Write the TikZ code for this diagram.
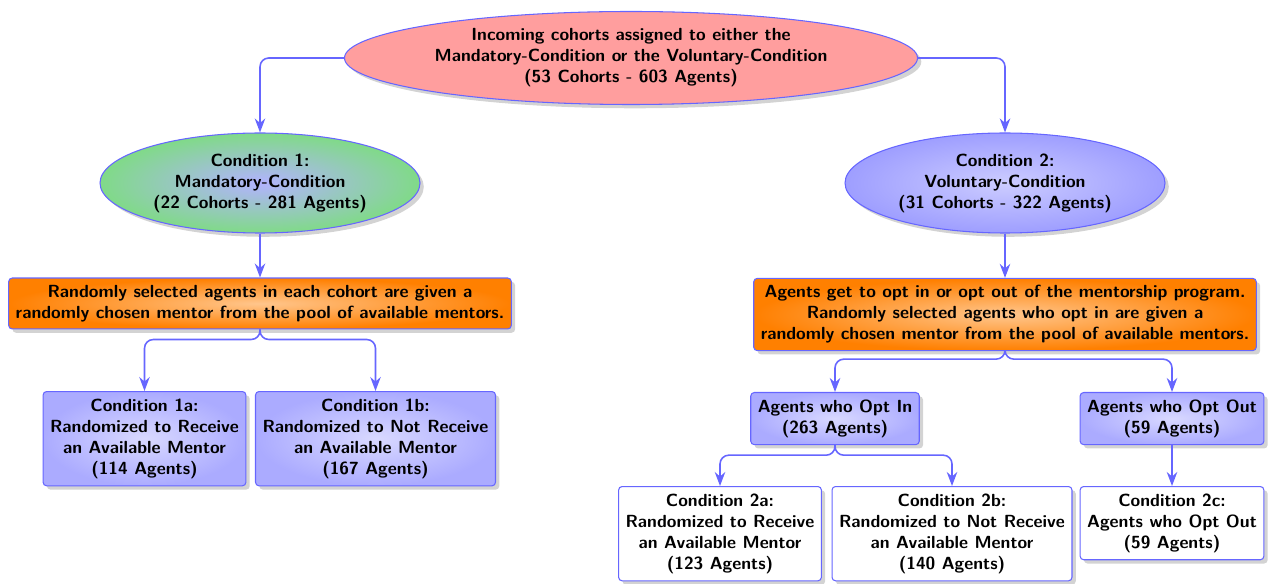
\documentclass[tikz,border=0pt]{standalone}
\usepackage{tikz}
\usepackage{xcolor}
\usetikzlibrary{shapes}
\usetikzlibrary{shadows}
\usetikzlibrary{arrows.meta}
\definecolor{condgreen}{RGB}{128,218,136}
\tikzset{base/.style={font=\sffamily\bfseries, align=center, draw=blue!60, semithick, drop shadow={opacity=0.35}},
 ellnode/.style={base, ellipse, inner sep=0pt},
 orangebox/.style={base, rectangle, rounded corners=2pt, inner sep=4pt, shade, inner color=orange!45, outer color=orange},
 bluebox/.style={base, rectangle, rounded corners=2pt, inner sep=4pt, shade, inner color=blue!15, outer color=blue!33},
 whitebox/.style={base, rectangle, rounded corners=2pt, inner sep=4pt, fill=white},
 conn/.style={draw=blue!60, line width=0.9pt, -{Stealth[length=2.8mm, width=2.1mm]}, rounded corners=5pt},
 }

\begin{document}
\begin{tikzpicture}
        \useasboundingbox (0,0) rectangle (25.44,11.66);
        \node[ellnode, fill=red!38, minimum width=11.46cm, minimum height=1.86cm] (top) at (12.62,10.50) {Incoming cohorts assigned to either the\\Mandatory-Condition or the Voluntary-Condition\\(53 Cohorts - 603 Agents)};
        \node[ellnode, shade, inner color=blue!30, outer color=condgreen, minimum width=6.4cm, minimum height=2.0cm] (cond1) at (5.20,8.00) {Condition 1:\\Mandatory-Condition\\(22 Cohorts - 281 Agents)};
        \node[ellnode, shade, inner color=blue!20, outer color=blue!38, minimum width=6.4cm, minimum height=2.0cm] (cond2) at (20.10,8.00) {Condition 2:\\Voluntary-Condition\\(31 Cohorts - 322 Agents)};
        \node[orangebox] (rand1) at (5.20,5.59) {Randomly selected agents in each cohort are given a\\randomly chosen mentor from the pool of available mentors.};
        \node[orangebox] (rand2) at (20.10,5.37) {Agents get to opt in or opt out of the mentorship program.\\Randomly selected agents who opt in are given a\\randomly chosen mentor from the pool of available mentors.};
        \node[bluebox, anchor=north] (cond1a) at (2.89,3.84) {Condition 1a:\\Randomized to Receive\\an Available Mentor\\(114 Agents)};
        \node[bluebox, anchor=north] (cond1b) at (7.51,3.84) {Condition 1b:\\Randomized to Not Receive\\an Available Mentor\\(167 Agents)};
        \node[bluebox, anchor=north] (optin) at (16.70,3.82) {Agents who Opt In\\(263 Agents)};
        \node[bluebox, anchor=north] (optout) at (23.44,3.82) {Agents who Opt Out\\(59 Agents)};
        \node[whitebox, anchor=north] (cond2a) at (14.40,1.94) {Condition 2a:\\Randomized to Receive\\an Available Mentor\\(123 Agents)};
        \node[whitebox, anchor=north] (cond2b) at (19.04,1.94) {Condition 2b:\\Randomized to Not Receive\\an Available Mentor\\(140 Agents)};
        \node[whitebox, anchor=north] (cond2c) at (23.44,1.94) {Condition 2c:\\Agents who Opt Out\\(59 Agents)};
        \coordinate (rand1b) at ([yshift=-0.2cm]rand1.south);
        \coordinate (rand2b) at ([yshift=-0.16cm]rand2.south);
        \coordinate (optinb) at ([yshift=-0.2cm]optin.south);
        \draw[conn] (top.west) -| (cond1.north);
        \draw[conn] (top.east) -| (cond2.north);
        \draw[conn] (cond1.south) -- (rand1.north);
        \draw[conn] (cond2.south) -- (rand2.north);
        \draw[conn] (rand1.south) -- (rand1b) -| (cond1a.north);
        \draw[conn] (rand1.south) -- (rand1b) -| (cond1b.north);
        \draw[conn] (rand2.south) -- (rand2b) -| (optin.north);
        \draw[conn] (rand2.south) -- (rand2b) -| (optout.north);
        \draw[conn] (optin.south) -- (optinb) -| (cond2a.north);
        \draw[conn] (optin.south) -- (optinb) -| (cond2b.north);
        \draw[conn] (optout.south) -- (cond2c.north);
    \end{tikzpicture}
\end{document}
